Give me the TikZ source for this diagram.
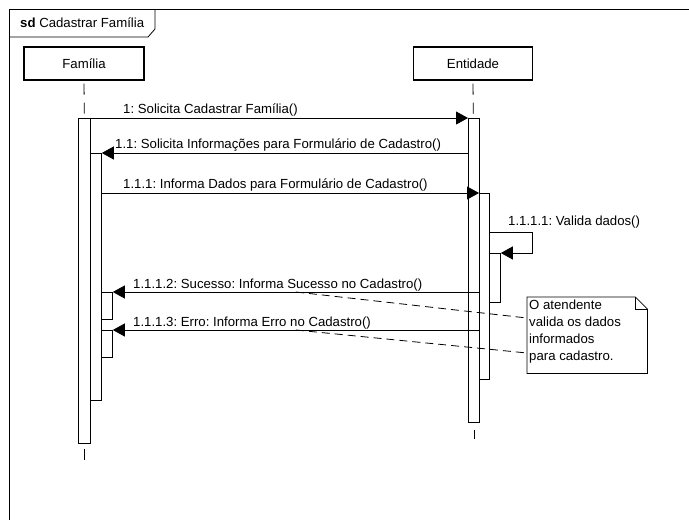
\documentclass[tikz,border=0pt]{standalone}
\usepackage{fontspec}
\setmainfont{Liberation Sans}
\usetikzlibrary{arrows.meta,calc}
\frenchspacing
\begin{document}
\begin{tikzpicture}[x=1pt,y=-1pt,
  every node/.style={font=\fontsize{13.2}{15}\selectfont},
  lifebox/.style={draw,line width=1.2pt,minimum width=120pt,minimum height=33pt,inner sep=0pt},
  bar/.style={draw,fill=white,line width=0.8pt,inner sep=0pt,anchor=north west},
  msg/.style={draw,line width=0.8pt,-{Triangle[length=12pt,width=13pt]}},
  lbl/.style={anchor=base west,inner sep=0pt},
  life/.style={draw,line width=0.8pt,dash pattern=on 11pt off 8pt},
  notelink/.style={draw,line width=0.8pt,dash pattern=on 8pt off 5pt},
]
\useasboundingbox (0,0) rectangle (689,520);
\clip (0,0) rectangle (689,520);

% diagram frame and its name tab
\draw[line width=1pt] (9,540) -- (9,9) -- (700,9);
\draw[line width=0.8pt] (9,37) -- (148,37) -- (155,29) -- (155,9);
\node[lbl] (title) at (20,27) {\textbf{sd} Cadastrar Família};

% lifeline heads
\node[lifebox] (fam) at (84,63.5) {Família};
\node[lifebox,minimum width=119pt] (ent) at (473,63.5) {Entidade};

% activation bars
\node[bar,minimum width=12pt,minimum height=325pt] (famA) at (78,118) {};
\node[bar,minimum width=11pt,minimum height=247pt] (famB) at (90,153) {};
\node[bar,minimum width=11pt,minimum height=27pt] (famC1) at (101,292) {};
\node[bar,minimum width=11pt,minimum height=27pt] (famC2) at (101,330) {};
\node[bar,minimum width=11pt,minimum height=304pt] (entA) at (468,118) {};
\node[bar,minimum width=10pt,minimum height=186pt] (entB) at (479,193) {};
\node[bar,minimum width=11pt,minimum height=49pt] (entC) at (489,253) {};

% dashed lifelines
\draw[life] ([yshift=-3pt]fam.south) -- (famA.north);
\draw[life] ([yshift=-5pt]famA.south) -- ++(0,12);
\draw[life] ([yshift=-3pt]ent.south) -- ([xshift=-0.5pt]entA.north);
\draw[life] ([yshift=-7pt]entA.south) -- ++(0,9);

% messages
\draw[msg] (famA.north east) -- (entA.north west);
\node[lbl] (l1) at (123,113) {1: Solicita Cadastrar Família()};

\draw[msg] (entA.west |- famB.north) -- (famB.north east);
\node[lbl] (l2) at (115,148) {1.1: Solicita Informações para Formulário de Cadastro()};

\draw[msg] (famB.east |- entB.north) -- (entB.north west);
\node[lbl] (l3) at (123,188) {1.1.1: Informa Dados para Formulário de Cadastro()};

\coordinate (selfA) at (532,232);
\coordinate (selfB) at (532,253);
\draw[msg] (entB.east |- selfA) -- (selfA) -- (selfB) -- (entC.north east);
\node[lbl] (l4) at (508,225) {1.1.1.1: Valida dados()};

\draw[msg] (entB.west |- famC1.north) -- (famC1.north east);
\node[lbl] (l5) at (133,288) {1.1.1.2: Sucesso: Informa Sucesso no Cadastro()};

\draw[msg] (entB.west |- famC2.north) -- (famC2.north east);
\node[lbl] (l6) at (133,326) {1.1.1.3: Erro: Informa Erro no Cadastro()};

% note with folded corner
\node[anchor=north west,inner sep=0pt,minimum width=120pt,minimum height=76pt] (note) at (527,297) {};
\draw[line width=0.8pt,fill=white] (note.south west) -- (note.north west) -- ([xshift=-12pt]note.north east)
  -- ([yshift=-12pt]note.north east) -- (note.south east) -- cycle;
\draw[line width=0.8pt] ([xshift=-12pt]note.north east) -- ([xshift=-12pt,yshift=-12pt]note.north east)
  -- ([yshift=-12pt]note.north east);
\node[anchor=north west,align=left,inner sep=0pt,font=\fontsize{13.2}{17}\selectfont] (notetext) at (529,300)
  {O atendente\\valida os dados\\informados\\para cadastro.};

% note attachments
\draw[notelink] ($(entB.west |- famC1.north)!0.5!(famC1.north east)$) -- (note.west |- 0,318);
\draw[notelink] ($(entB.west |- famC2.north)!0.5!(famC2.north east)$) -- (note.west |- 0,353);
\end{tikzpicture}
\end{document}
